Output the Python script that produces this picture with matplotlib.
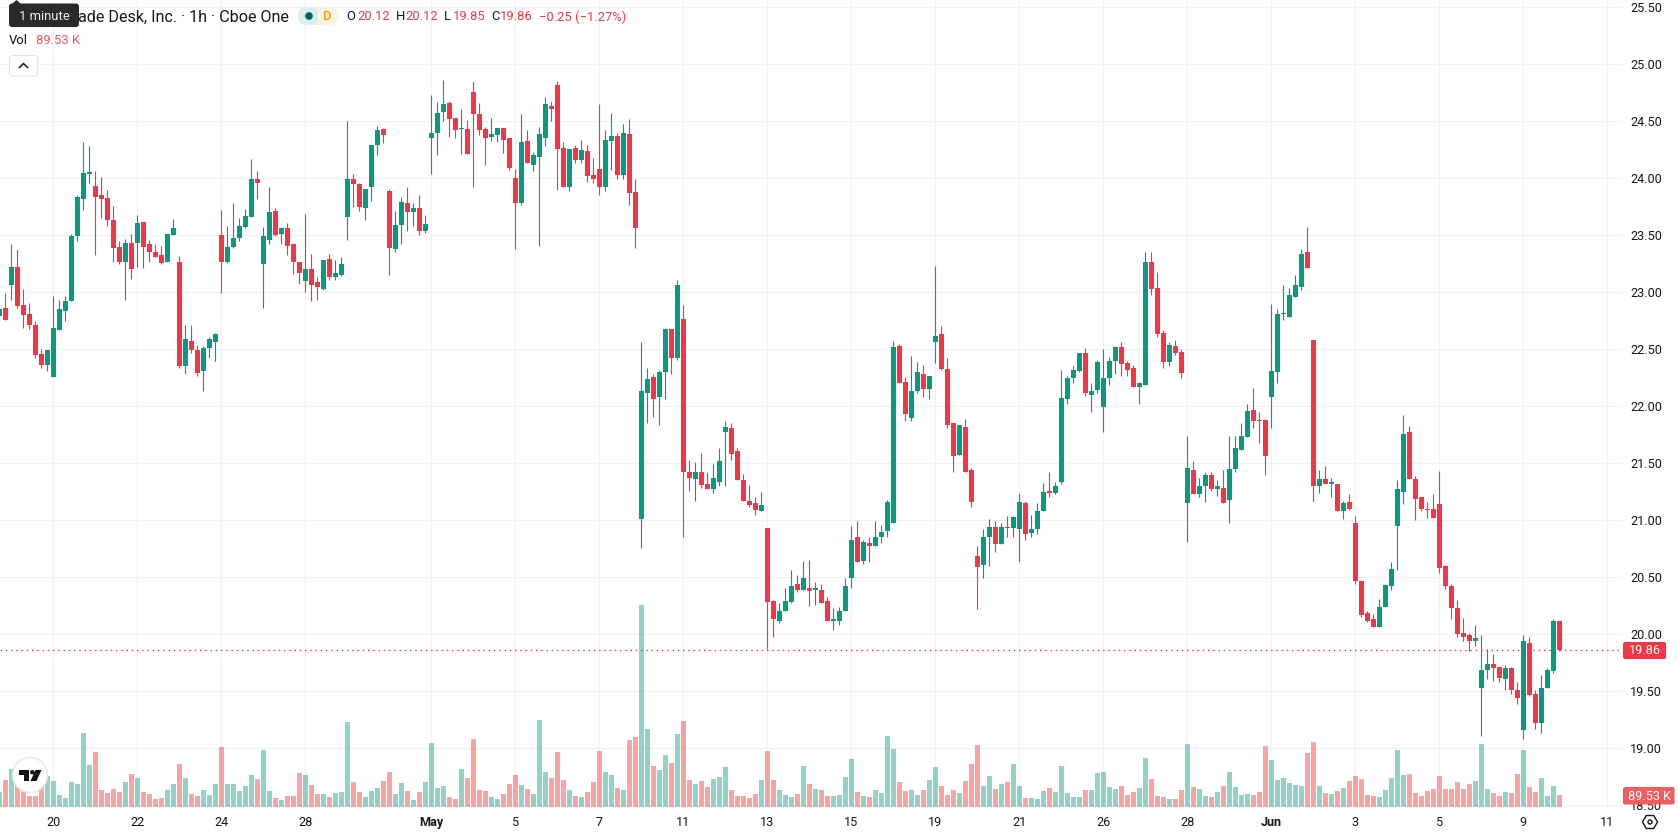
import matplotlib
matplotlib.use("Agg")
import matplotlib.pyplot as plt
from matplotlib.colors import to_rgba
from matplotlib.patches import FancyBboxPatch, Circle, Polygon, Rectangle, RegularPolygon

plt.rcParams['font.family'] = ['Roboto', 'DejaVu Sans']

# Hourly candles, oldest first
opens = [
 22.79,22.86,23.06,23.22,22.89,22.81,22.71,22.46,22.36,22.26,
 22.67,22.84,22.92,23.49,23.82,24.04,23.93,23.85,23.83,23.63,
 23.40,23.27,23.43,23.43,23.62,23.42,23.35,23.33,23.27,23.50,
 23.27,22.35,22.57,22.49,22.31,22.51,22.56,23.50,23.27,23.40,
 23.48,23.57,23.66,23.99,23.25,23.46,23.71,23.51,23.56,23.42,
 23.27,23.10,23.20,23.09,23.03,23.29,23.13,23.15,23.66,23.99,
 23.95,23.74,23.92,24.29,24.43,23.89,23.38,23.59,23.78,23.70,
 23.74,23.54,24.35,24.40,24.58,24.66,24.53,24.43,24.43,24.76,
 24.56,24.43,24.36,24.38,24.44,24.35,24.00,23.78,24.33,24.12,
 24.19,24.35,24.63,24.82,24.27,23.92,24.27,24.16,24.24,24.03,
 24.08,23.92,24.33,24.37,24.03,24.39,23.88,21.01,22.12,22.26,
 22.08,22.30,22.68,22.42,22.77,21.42,21.36,21.42,21.32,21.27,
 21.34,21.77,21.81,21.61,21.35,21.17,21.15,21.08,20.93,20.29,
 20.12,20.20,20.28,20.44,20.39,20.41,20.39,20.39,20.29,20.12,
 20.12,20.20,20.49,20.85,20.64,20.80,20.77,20.85,20.91,20.98,
 22.53,22.21,21.90,22.13,22.28,22.15,22.56,22.63,22.33,21.85,
 21.57,21.82,21.44,20.69,20.61,20.85,20.94,20.79,20.94,20.93,
 20.92,21.15,20.89,20.92,21.08,21.26,21.24,21.34,22.06,22.25,
 22.31,22.47,22.10,22.14,21.99,22.25,22.40,22.52,22.38,22.34,
 22.17,22.19,23.27,23.04,22.64,22.39,22.53,22.48,21.15,21.44,
 21.23,21.30,21.40,21.27,21.28,21.18,21.45,21.62,21.73,21.97,
 21.88,21.88,22.08,22.30,22.81,22.78,22.96,23.05,23.35,22.58,
 21.30,21.36,21.32,21.32,21.08,21.16,20.98,20.47,20.19,20.13,
 20.06,20.24,20.42,20.95,21.25,21.77,21.36,21.20,21.10,21.10,
 21.14,20.60,20.42,20.23,20.01,19.99,19.94,19.53,19.69,19.74,
 19.71,19.61,19.70,19.51,19.16,19.92,19.48,19.22,19.53,19.68,
 20.12]
closes = [
 22.85,22.76,23.22,22.88,22.80,22.71,22.45,22.36,22.49,22.69,
 22.85,22.92,23.49,23.84,24.05,24.05,23.84,23.82,23.63,23.39,
 23.27,23.43,23.20,23.61,23.40,23.35,23.31,23.26,23.51,23.56,
 22.35,22.59,22.49,22.29,22.51,22.59,22.63,23.27,23.40,23.48,
 23.58,23.67,23.99,23.96,23.49,23.70,23.50,23.56,23.41,23.27,
 23.17,23.20,23.06,23.05,23.28,23.13,23.17,23.25,23.99,23.95,
 23.75,23.91,24.29,24.42,24.38,23.39,23.59,23.79,23.70,23.74,
 23.54,23.60,24.40,24.57,24.65,24.52,24.42,24.44,24.21,24.56,
 24.42,24.35,24.39,24.44,24.34,24.09,23.78,24.32,24.13,24.20,
 24.39,24.65,24.61,24.26,23.92,24.26,24.16,24.25,24.02,23.99,
 23.92,24.34,24.37,24.03,24.40,23.87,23.56,22.13,22.24,22.06,
 22.30,22.68,22.42,23.06,21.42,21.37,21.42,21.31,21.27,21.37,
 21.52,21.82,21.58,21.35,21.17,21.13,21.09,21.13,20.28,20.13,
 20.20,20.29,20.42,20.39,20.49,20.38,20.40,20.27,20.12,20.13,
 20.20,20.42,20.83,20.63,20.81,20.77,20.85,20.90,21.16,22.52,
 22.20,21.93,22.13,22.30,22.15,22.27,22.62,22.33,21.84,21.56,
 21.84,21.42,21.16,20.59,20.85,20.94,20.79,20.94,20.93,21.03,
 21.16,20.88,20.92,21.08,21.25,21.24,21.30,22.07,22.25,22.32,
 22.47,22.12,22.13,22.39,22.25,22.40,22.52,22.37,22.32,22.17,
 22.20,23.27,23.03,22.63,22.39,22.54,22.47,22.29,21.46,21.23,
 21.30,21.40,21.27,21.30,21.15,21.45,21.63,21.74,21.96,21.87,
 21.87,21.56,22.31,22.81,22.82,22.98,23.06,23.34,23.21,21.30,
 21.36,21.32,21.34,21.08,21.15,21.10,20.47,20.17,20.12,20.06,
 20.24,20.43,20.57,21.27,21.76,21.36,21.19,21.10,21.09,21.02,
 20.58,20.42,20.23,20.00,19.98,19.94,19.97,19.69,19.74,19.70,
 19.62,19.70,19.51,19.44,19.94,19.47,19.22,19.53,19.69,20.12,
 19.86]
highs = [
 22.85,22.99,23.42,23.38,23.03,22.91,22.75,22.50,22.49,22.97,
 22.93,22.97,23.51,23.85,24.32,24.28,24.06,24.01,23.90,23.76,
 23.45,23.47,23.51,23.68,23.62,23.46,23.42,23.41,23.51,23.64,
 23.32,22.71,22.71,22.54,22.53,22.61,22.64,23.72,23.58,23.78,
 23.65,23.73,24.17,24.06,23.57,23.92,23.74,23.57,23.61,23.43,
 23.27,23.69,23.34,23.13,23.28,23.34,23.28,23.31,24.50,24.04,
 23.96,23.91,24.29,24.46,24.44,23.91,23.71,23.84,23.92,23.78,
 23.85,23.68,24.73,24.67,24.86,24.68,24.53,24.61,24.51,24.85,
 24.66,24.45,24.53,24.44,24.44,24.35,24.08,24.56,24.42,24.23,
 24.45,24.71,24.68,24.85,24.32,24.26,24.29,24.34,24.29,24.18,
 24.65,24.42,24.57,24.40,24.48,24.52,23.99,22.56,22.34,22.28,
 22.32,22.69,22.68,23.11,22.89,21.53,21.51,21.59,21.42,21.49,
 21.63,21.87,21.85,21.63,21.41,21.31,21.20,21.25,20.93,20.30,
 20.27,20.41,20.56,20.52,20.64,20.65,20.46,20.44,20.33,20.23,
 20.24,20.49,20.95,20.99,20.83,20.85,20.99,20.96,21.18,22.57,
 22.55,22.26,22.44,22.39,22.36,22.27,23.23,22.70,22.42,21.85,
 21.84,21.89,21.46,20.77,20.92,21.01,20.99,20.98,21.04,21.04,
 21.24,21.17,21.05,21.15,21.33,21.42,21.34,22.32,22.27,22.35,
 22.47,22.51,22.20,22.41,22.50,22.43,22.53,22.56,22.40,22.36,
 22.21,23.35,23.35,23.18,22.67,22.56,22.58,22.50,21.74,21.52,
 21.37,21.42,21.42,21.35,21.44,21.74,21.74,21.85,22.02,22.16,
 21.95,21.89,22.90,22.85,23.06,23.04,23.15,23.38,23.57,22.58,
 21.44,21.48,21.37,21.32,21.17,21.23,21.04,20.47,20.20,20.18,
 20.31,20.44,20.63,21.35,21.92,21.83,21.39,21.20,21.16,21.23,
 21.43,20.61,20.44,20.30,20.14,20.01,20.08,19.99,19.87,19.83,
 19.71,19.73,19.71,19.58,19.99,19.98,19.51,19.64,19.70,20.13,
 20.12]
lows = [
 22.79,22.76,22.93,22.86,22.69,22.68,22.42,22.34,22.31,22.26,
 22.67,22.75,22.92,23.45,23.72,23.96,23.33,23.65,23.58,23.27,
 23.25,22.93,23.12,23.22,23.21,23.27,23.31,23.25,23.27,23.50,
 22.34,22.28,22.47,22.27,22.13,22.42,22.40,22.99,23.26,23.39,
 23.45,23.56,23.66,23.82,22.86,23.42,23.49,23.42,23.33,23.16,
 23.07,23.00,22.92,22.93,23.02,23.11,23.11,23.14,23.46,23.75,
 23.71,23.63,23.80,24.20,24.31,23.15,23.35,23.42,23.54,23.58,
 23.50,23.52,24.04,24.20,24.50,24.36,24.35,24.21,24.21,23.92,
 24.38,24.12,24.33,24.32,24.22,24.07,23.38,23.77,24.13,24.06,
 23.41,24.28,24.50,23.90,23.92,23.89,24.13,24.13,23.97,23.96,
 23.85,23.89,24.07,23.99,23.99,23.77,23.39,20.76,21.85,21.91,
 21.84,22.06,22.28,22.41,20.85,21.26,21.17,21.28,21.27,21.24,
 21.30,21.30,21.53,21.35,21.17,21.12,21.05,21.08,19.87,19.98,
 20.10,20.20,20.27,20.37,20.39,20.25,20.26,20.27,20.12,20.04,
 20.08,20.20,20.41,20.63,20.62,20.63,20.77,20.80,20.85,20.98,
 22.20,21.87,21.87,22.12,22.08,22.06,22.38,22.32,21.81,21.42,
 21.57,21.42,21.12,20.22,20.49,20.60,20.72,20.79,20.85,20.85,
 20.63,20.83,20.85,20.88,21.08,21.20,21.23,21.32,22.02,22.20,
 22.30,22.09,21.95,22.12,21.77,22.19,22.28,22.27,22.27,22.17,
 22.02,22.19,22.98,22.61,22.34,22.35,22.45,22.25,20.81,21.23,
 21.20,21.16,21.26,21.21,21.15,20.98,21.42,21.62,21.73,21.81,
 21.68,21.40,21.81,22.20,22.76,22.78,22.96,23.02,23.21,21.16,
 21.24,21.32,21.20,21.08,21.01,21.09,20.44,20.15,20.11,20.06,
 20.06,20.24,20.39,20.56,21.14,21.36,21.00,21.08,21.02,21.02,
 20.54,20.40,20.13,19.98,19.94,19.85,19.90,19.11,19.61,19.59,
 19.58,19.51,19.48,19.39,19.08,19.46,19.17,19.13,19.53,19.66,
 19.85]

# Volume per bar, thousands of shares
volumes = [
 112,201,284,201,127,82,82,157,231,194,
 90,67,187,172,552,313,410,127,104,134,
 112,187,246,216,112,97,60,67,127,172,
 321,216,97,82,127,90,172,448,172,172,
 119,157,239,209,425,119,67,52,82,82,
 254,239,164,97,97,75,104,112,634,187,
 112,75,119,142,194,261,97,179,119,52,
 112,187,478,142,157,75,60,284,216,507,
 127,119,75,60,97,172,239,164,134,97,
 649,261,216,410,201,127,82,75,112,187,
 418,261,239,142,127,500,522,1510,582,306,
 276,388,328,545,642,201,172,194,149,209,
 224,298,127,82,82,67,97,201,418,201,
 127,90,75,97,306,172,134,127,82,82,
 90,224,358,112,82,75,127,104,530,433,
 187,119,127,90,127,201,298,157,90,127,
 104,194,321,463,157,231,134,172,187,321,
 157,67,67,60,119,142,112,306,104,75,
 75,127,127,254,261,149,134,157,90,112,
 142,366,209,82,75,60,60,127,470,149,
 134,82,75,112,157,261,149,90,97,90,
 112,455,351,201,216,179,164,157,403,485,
 157,104,97,119,142,194,231,209,90,82,
 75,127,216,425,239,246,104,82,119,134,
 231,134,134,187,134,172,194,470,134,104,
 82,112,104,246,425,149,112,216,82,157,
 89.53]

date_positions = [9, 23, 37, 51, 72, 86, 100, 114, 128, 142, 156, 170, 184, 198, 212, 226, 240, 254, 268]
date_labels = ['20', '22', '24', '28', 'May', '5', '7', '11', '13', '15', '19', '21', '26', '28', 'Jun', '3', '5', '9', '11']
price_ticks = [18.5 + 0.5 * k for k in range(15)]

last_price = closes[-1]
last_volume = volumes[-1]

GREEN = '#089981'
RED = '#F23645'
INK = '#131722'
GRID = '#F0F1F4'

W, H = 1678, 835
PANE_R, PANE_B = 1622, 808

fig = plt.figure(figsize=(W / 100, H / 100), dpi=100, facecolor='white')
rect = [0, 1 - PANE_B / H, PANE_R / W, PANE_B / H]

# Price pane
ax = fig.add_axes(rect, zorder=1)
xs = list(range(len(closes)))
up = [c >= o for o, c in zip(opens, closes)]
colors = [GREEN if u else RED for u in up]
ax.vlines(xs, lows, highs, colors=colors, linewidth=0.8, zorder=3)
ax.bar(xs, [max(abs(c - o), 0.012) for o, c in zip(opens, closes)],
       bottom=[min(o, c) for o, c in zip(opens, closes)],
       width=0.87, color=colors, linewidth=0, zorder=4)
ax.axhline(last_price, color=RED, linewidth=0.9, linestyle=(0, (1.2, 3)), zorder=2)
ax.set_xlim(0.112, 270.44)
ax.set_ylim(18.476, 25.564)
ax.set_xticks(date_positions, date_labels)
ax.set_yticks(price_ticks, [f'{p:.2f}' for p in price_ticks])
ax.yaxis.tick_right()
ax.grid(True, color=GRID, linewidth=0.9)
ax.set_axisbelow(True)
ax.tick_params(axis='both', length=0, labelsize=9.1, labelcolor=INK)
ax.tick_params(axis='x', pad=5.5)
ax.tick_params(axis='y', pad=6)
for lab in ax.get_xticklabels():
    if lab.get_text() in ('May', 'Jun'):
        lab.set_fontweight('bold')
for s in ax.spines.values():
    s.set_visible(False)

# Volume pane shares the same rectangle
ax_v = fig.add_axes(rect, zorder=2)
ax_v.patch.set_alpha(0)
ax_v.bar(xs, volumes, width=0.85, linewidth=0,
         color=[to_rgba(GREEN, 0.44) if u else to_rgba('#EF5350', 0.52) for u in up])
ax_v.set_xlim(ax.get_xlim())
ax_v.set_ylim(-7.46, 7.46 * (PANE_B - 1))
ax_v.axis('off')

# Interface elements placed in pixel space
ui = fig.add_axes([0, 0, 1, 1], zorder=3)
ui.set_xlim(0, W)
ui.set_ylim(H, 0)
ui.axis('off')
ui.patch.set_alpha(0)

# Legend strip
FS = 9.4
ui.text(289, 17, 'ade Desk, Inc. · 1h · Cboe One', ha='right', va='center', fontsize=11.6, color=INK)
ui.add_patch(FancyBboxPatch((9, 3.5), 70, 23.5, boxstyle='round,pad=0,rounding_size=3',
                            fc='#2A2A2C', ec='none'))
ui.add_patch(Polygon([(12, 4), (16.5, 0), (21, 4)], fc='#2A2A2C', ec='none'))
ui.text(44, 16, '1 minute', ha='center', va='center', fontsize=9.4, color='#EDEDED')

ui.add_patch(FancyBboxPatch((298, 7), 39.5, 18, boxstyle='round,pad=0,rounding_size=9',
                            fc='#DAF0EC', ec='none'))
clip_half = Rectangle((318, 7), 20, 18, fc='#FFF3E0', ec='none')
ui.add_patch(clip_half)
clip_half.set_clip_path(FancyBboxPatch((298, 7), 39.5, 18, boxstyle='round,pad=0,rounding_size=9',
                                       transform=ui.transData))
ui.add_patch(Circle((309, 16), 3.8, fc='#056656', ec='none'))
ui.text(327, 16, 'D', ha='center', va='center', fontsize=9.4, color='#FF9800', fontweight='medium')

for x, t, c in [(346, 'O', INK), (357.5, '20.12', RED), (396, 'H', INK), (405, '20.12', RED),
                (444, 'L', INK), (453, '19.85', RED), (491, 'C', INK), (500, '19.86', RED),
                (539, '−0.25 (−1.27%)', RED)]:
    ui.text(x, 17, t, ha='left', va='center', fontsize=FS, color=c)

ui.text(9, 41, 'Vol', ha='left', va='center', fontsize=FS, color=INK)
ui.text(36.5, 41, '89.53 K', ha='left', va='center', fontsize=FS, color='#F7525F')
ui.add_patch(FancyBboxPatch((9.5, 55.5), 28, 20.5, boxstyle='round,pad=0,rounding_size=3',
                            fc='white', ec='#E0E3EB', lw=0.8))
ui.plot([19.5, 23.5, 27.5], [67.5, 63.5, 67.5], color=INK, lw=1.1)

# Last value tags on the price scale
ui.add_patch(FancyBboxPatch((1623, 642), 43, 17, boxstyle='round,pad=0,rounding_size=2',
                            fc=RED, ec='none'))
ui.text(1644.5, 650.7, f'{last_price:.2f}', ha='center', va='center', fontsize=9.1, color='white')
ui.add_patch(FancyBboxPatch((1623, 787), 51.5, 17.5, boxstyle='round,pad=0,rounding_size=2',
                            fc='#F05D5E', ec='none'))
ui.text(1649, 796, f'{last_volume:.2f} K', ha='center', va='center', fontsize=9.1, color='white')

# Scale settings glyph
ui.add_patch(RegularPolygon((1650, 822), 6, radius=7.5, orientation=0.5236, fc='none', ec=INK, lw=1))
ui.add_patch(Circle((1650, 822), 2, fc='none', ec=INK, lw=1))

# Brand badge
ui.add_patch(Circle((30, 775), 17.5, fc='white', ec='#E6E6E8', lw=1))
ui.add_patch(Polygon([(18.5, 770), (29, 770), (29, 781), (23.5, 781), (23.5, 774.5), (18.5, 774.5)],
                     fc='#131313', ec='none'))
ui.add_patch(Circle((32.3, 772.2), 2.2, fc='#131313', ec='none'))
ui.add_patch(Polygon([(30.5, 781), (35.5, 770), (41.5, 770), (36.5, 781)], fc='#131313', ec='none'))

fig.savefig('out.png', dpi=100, facecolor='white')
